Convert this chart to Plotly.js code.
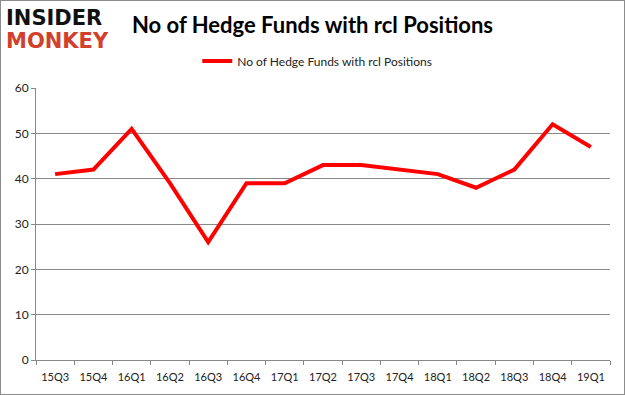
<!DOCTYPE html>
<html><head><meta charset="utf-8">
<script src="https://cdn.plot.ly/plotly-3.0.1.min.js"></script>
<style>
html,body{margin:0;padding:0;background:#fff;}
#wrap{position:relative;width:625px;height:395px;}
#chart{position:absolute;left:0;top:0;width:625px;height:395px;}
#frame{position:absolute;left:0;top:0;width:623px;height:393px;border:1px solid #8c8c8c;pointer-events:none;}
</style></head>
<body>
<div id="wrap"><div id="chart"></div><div id="frame"></div></div>
<script>
const quarters = ["15Q3","15Q4","16Q1","16Q2","16Q3","16Q4","17Q1","17Q2","17Q3","17Q4","18Q1","18Q2","18Q3","18Q4","19Q1"];
const hedgeFunds = [41,42,51,39,26,39,39,43,43,42,41,38,42,52,47];
const seriesName = "No of Hedge Funds with rcl Positions";
const yTicks = [0,10,20,30,40,50,60];

const trace = {
  x: quarters, y: hedgeFunds, type: "scatter", mode: "lines", name: seriesName,
  line: {color: "#ff0000", width: 4}
};
const layout = {
  width: 625, height: 395,
  margin: {l: 36, r: 15, t: 88, b: 35},
  paper_bgcolor: "#fff", plot_bgcolor: "#fff",
  font: {family: "Lato, 'Open Sans', sans-serif", size: 11, color: "#222"},
  title: {text: "<b>No of Hedge Funds with rcl Positions</b>", x: 0.5, xanchor: "center", y: 0.937, yanchor: "middle",
          font: {family: "Lato, sans-serif", size: 22, color: "#000"}},
  showlegend: true,
  legend: {orientation: "h", x: 0.49, xanchor: "center", y: 1.099, yanchor: "middle",
           font: {size: 12, color: "#222"}, bgcolor: "rgba(0,0,0,0)"},
  xaxis: {type: "category", tickson: "boundaries", ticks: "outside", ticklen: 4, tickcolor: "#888",
          showline: true, linecolor: "#888", showgrid: false, zeroline: false, ticklabelstandoff: 7,
          tickfont: {size: 11, color: "#222"}, range: [-0.5, 14.5], fixedrange: true},
  yaxis: {range: [0, 60], tickvals: yTicks, ticks: "outside", ticklen: 4, tickcolor: "#888",
          showline: true, linecolor: "#888", showgrid: true, gridcolor: "#888", gridwidth: 1,
          zeroline: false, tickfont: {size: 12, color: "#222"}, fixedrange: true},
  annotations: [
    {xref: "paper", yref: "paper", x: -0.056, y: 1.259, xanchor: "left", yanchor: "middle",
     text: "<b>INSIDER</b>", showarrow: false, font: {family: "'DejaVu Sans', sans-serif", size: 21, color: "#111"}},
    {xref: "paper", yref: "paper", x: -0.056, y: 1.172, xanchor: "left", yanchor: "middle",
     text: "<b>MONKEY</b>", showarrow: false, font: {family: "'DejaVu Sans', sans-serif", size: 21, color: "#d2402b"}}
  ]
};
Plotly.newPlot("chart", [trace], layout, {displayModeBar: false, staticPlot: true});
</script>
</body></html>
